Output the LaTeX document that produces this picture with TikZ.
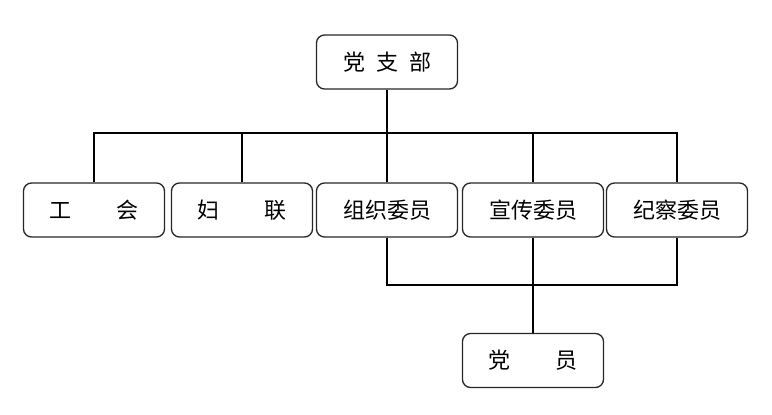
\documentclass[tikz,border=0pt]{standalone}
\usepackage{fontspec}
\newfontfamily\cjk{Noto Sans CJK SC}
\usetikzlibrary{positioning}

\begin{document}
\begin{tikzpicture}[x=1pt, y=-1pt, line width=1.6pt,
    box/.style={draw=black!85, line width=1.3pt, rounded corners=8pt, minimum width=141pt,
        minimum height=54pt, inner sep=0pt, font=\cjk\fontsize{22}{26}\selectfont}]
    \useasboundingbox (0,0) rectangle (772,415);
    % top and middle row
    \node[box] (dzb) at (387,62) {党\hspace{11pt}支\hspace{11pt}部};
    \node[box] (gh) at (94,210) {工\hspace{46pt}会};
    \node[box] (fl) at (242,210) {妇\hspace{46pt}联};
    \node[box] (zz) at (387,210) {组织委员};
    \node[box] (xc) at (533,210) {宣传委员};
    \node[box] (jc) at (677,210) {纪察委员};
    \node[box] (dy) at (533,360.5) {党\hspace{46pt}员};
    \coordinate (bar) at (387,133);
    \coordinate (low) at (387,285);
    % branches
    \draw (dzb.south) -- (bar);
    \draw (gh.north) -- (gh.north |- bar) -- (jc.north |- bar) -- (jc.north);
    \foreach \n in {fl,zz,xc} {
        \draw (\n.north) -- (\n.north |- bar);
    }
    \draw (zz.south) -- (zz.south |- low) -- (jc.south |- low) -- (jc.south);
    \draw (xc.south) -- (dy.north);
\end{tikzpicture}
\end{document}
